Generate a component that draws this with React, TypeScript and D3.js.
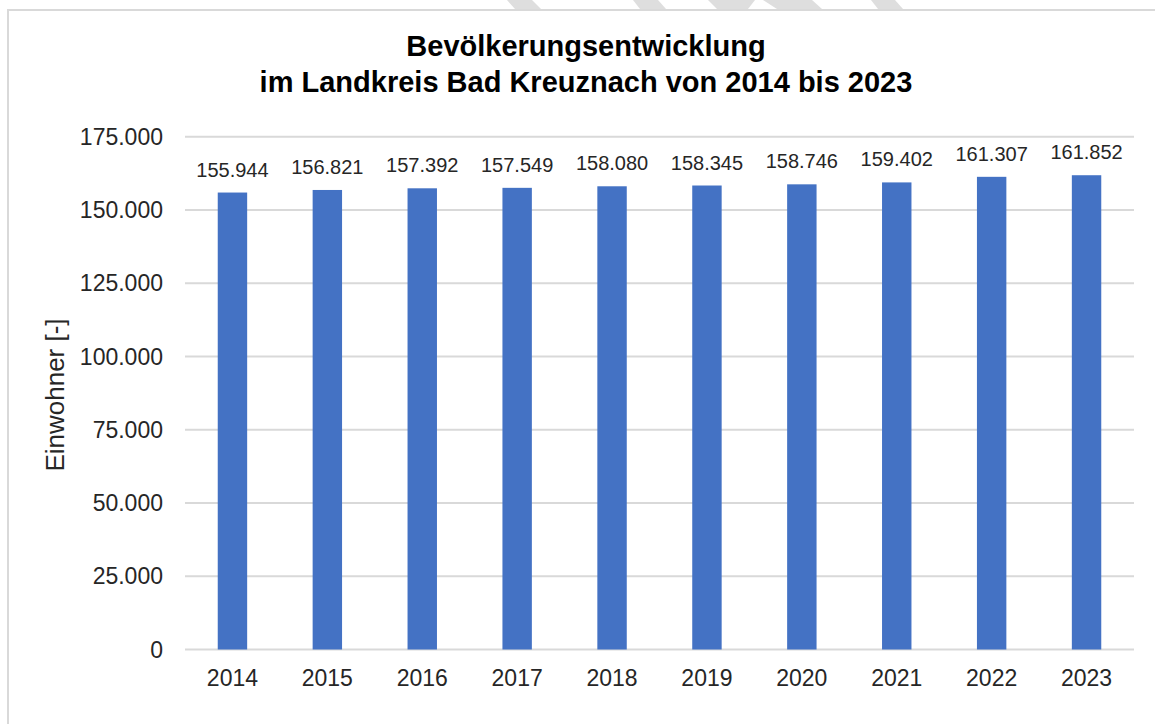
import React, { useEffect, useRef } from "react";
import * as d3 from "d3";

const years = ["2014", "2015", "2016", "2017", "2018", "2019", "2020", "2021", "2022", "2023"];
const population = [155944, 156821, 157392, 157549, 158080, 158345, 158746, 159402, 161307, 161852];
const yTicks = [0, 25000, 50000, 75000, 100000, 125000, 150000, 175000];
const titleLines = ["Bevölkerungsentwicklung", "im Landkreis Bad Kreuznach von 2014 bis 2023"];
const yAxisTitle = "Einwohner [-]";

// German number format: 155.944
const fmt = d3.formatLocale({ decimal: ",", thousands: ".", grouping: [3], currency: ["", " €"] }).format(",d");

function App() {
  const svgRef = useRef<SVGSVGElement>(null);
  const width = 1155;
  const height = 724;

  useEffect(() => {
    const svg = d3.select(svgRef.current);
    svg.selectAll("*").remove();

    const margin = { top: 136.7, right: 21, bottom: 74.5, left: 185 };
    const font = "Arial, 'Liberation Sans', sans-serif";

    svg.append("rect").attr("width", width).attr("height", height).attr("fill", "white");

    // faint watermark stripes above the chart frame
    const stripes = [
      [[507, 0], [532, 0], [541, 9], [515, 9]],
      [[633, 0], [658, 0], [666, 9], [640, 9]],
      [[708, 0], [755, 0], [748, 9], [717, 9]],
      [[763, 0], [812, 0], [822, 9], [777, 9]],
      [[871, 0], [895, 0], [903, 9], [878, 9]],
    ];
    svg
      .selectAll(".stripe")
      .data(stripes)
      .enter()
      .append("polygon")
      .attr("points", (d) => d.map((p) => p.join(",")).join(" "))
      .attr("fill", "#dedede");

    // chart frame (only top and left edges are in view)
    svg
      .append("path")
      .attr("d", `M8,${height} L8,10 L${width},10`)
      .attr("fill", "none")
      .attr("stroke", "#d9d9d9")
      .attr("stroke-width", 2);

    const x = d3
      .scaleBand()
      .domain(years)
      .range([margin.left, width - margin.right])
      .paddingInner(0.69)
      .paddingOuter(0.345);

    const y = d3
      .scaleLinear()
      .domain([0, 175000])
      .range([height - margin.bottom, margin.top]);

    // gridlines
    svg
      .append("g")
      .selectAll("line")
      .data(yTicks)
      .enter()
      .append("line")
      .attr("x1", margin.left)
      .attr("x2", width - margin.right)
      .attr("y1", (d) => y(d))
      .attr("y2", (d) => y(d))
      .attr("stroke", "#d9d9d9")
      .attr("stroke-width", 2);

    // y tick labels
    svg
      .append("g")
      .selectAll("text")
      .data(yTicks)
      .enter()
      .append("text")
      .attr("x", 163)
      .attr("y", (d) => y(d))
      .attr("dy", "0.35em")
      .attr("text-anchor", "end")
      .style("font-family", font)
      .style("font-size", "23px")
      .style("fill", "#262626")
      .text((d) => fmt(d));

    // bars
    svg
      .append("g")
      .selectAll("rect")
      .data(population)
      .enter()
      .append("rect")
      .attr("x", (d, i) => x(years[i]))
      .attr("y", (d) => y(d))
      .attr("width", x.bandwidth())
      .attr("height", (d) => y(0) - y(d))
      .attr("fill", "#4472c4");

    // value labels
    svg
      .append("g")
      .selectAll("text")
      .data(population)
      .enter()
      .append("text")
      .attr("x", (d, i) => x(years[i]) + x.bandwidth() / 2)
      .attr("y", (d) => y(d) - 16)
      .attr("text-anchor", "middle")
      .style("font-family", font)
      .style("font-size", "20px")
      .style("fill", "#262626")
      .text((d) => fmt(d));

    // x labels
    svg
      .append("g")
      .selectAll("text")
      .data(years)
      .enter()
      .append("text")
      .attr("x", (d) => x(d) + x.bandwidth() / 2)
      .attr("y", 686)
      .attr("text-anchor", "middle")
      .style("font-family", font)
      .style("font-size", "23px")
      .style("fill", "#262626")
      .text((d) => d);

    // y axis title
    svg
      .append("text")
      .attr("transform", `translate(64, 395) rotate(-90)`)
      .attr("text-anchor", "middle")
      .style("font-family", font)
      .style("font-size", "26px")
      .style("fill", "#262626")
      .text(yAxisTitle);

    // title
    svg
      .append("text")
      .attr("text-anchor", "middle")
      .style("font-family", font)
      .style("font-size", "29px")
      .style("font-weight", "bold")
      .style("fill", "#000")
      .selectAll("tspan")
      .data(titleLines)
      .enter()
      .append("tspan")
      .attr("x", 586)
      .attr("y", (d, i) => 56 + i * 36)
      .text((d) => d);
  }, []);

  return (
    <svg
      ref={svgRef}
      width={width}
      height={height}
      style={{ position: "absolute", left: 0, top: 0, display: "block" }}
    ></svg>
  );
}

export default App;
